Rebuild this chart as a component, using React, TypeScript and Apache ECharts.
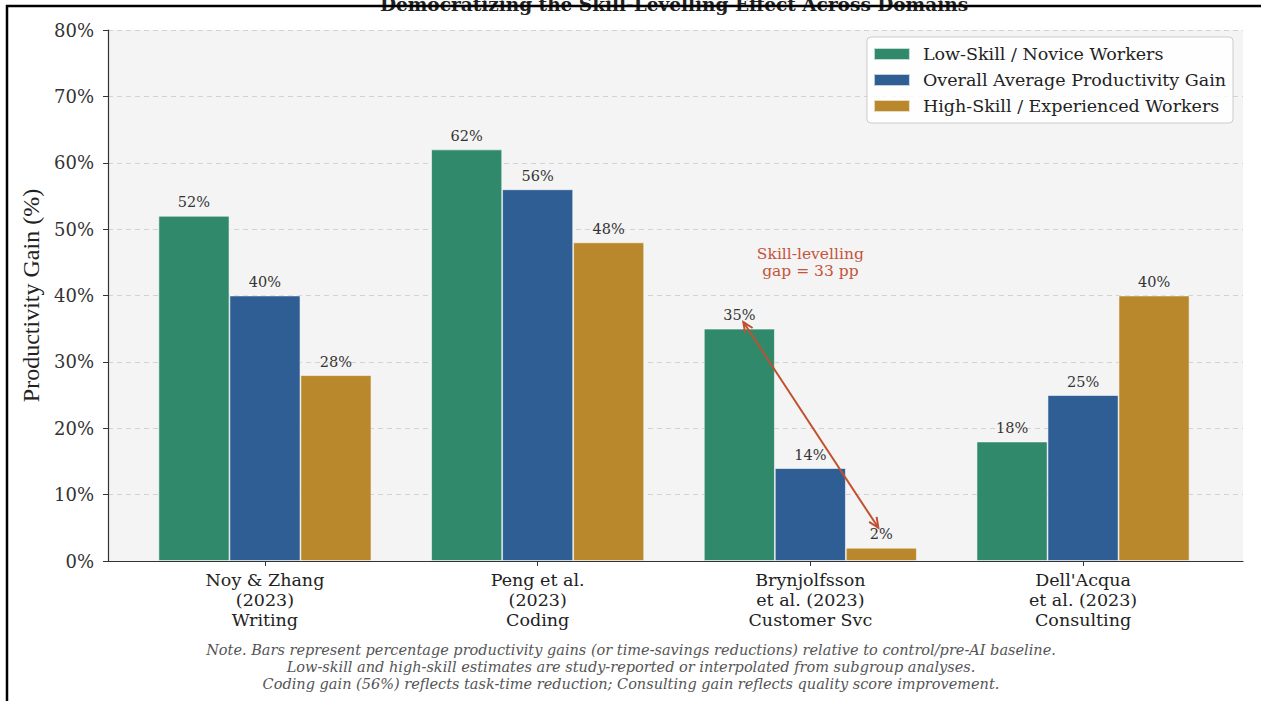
import React, { useEffect, useRef } from "react";
import * as echarts from "echarts";

// Study / domain categories (multi-line axis labels)
const categories = [
  "Noy & Zhang\n(2023)\nWriting",
  "Peng et al.\n(2023)\nCoding",
  "Brynjolfsson\net al. (2023)\nCustomer Svc",
  "Dell'Acqua\net al. (2023)\nConsulting",
];

// Productivity gains (%) by worker group
const lowSkill = [52, 62, 35, 18];
const overallAvg = [40, 56, 14, 25];
const highSkill = [28, 48, 2, 40];

const seriesNames = [
  "Low-Skill / Novice Workers",
  "Overall Average Productivity Gain",
  "High-Skill / Experienced Workers",
];

const yTicks = [0, 10, 20, 30, 40, 50, 60, 70, 80];

// Skill-levelling annotation for the customer-service study
const gapCategoryIndex = 2;
const gapFromValue = 36;
const gapToValue = 5;
const gapLabelValue = 45;
const gapLabel = "Skill-levelling\ngap = 33 pp";

const titleText = "Democratizing the Skill-Levelling Effect Across Domains";
const noteLines = [
  "Note. Bars represent percentage productivity gains (or time-savings reductions) relative to control/pre-AI baseline.",
  "Low-skill and high-skill estimates are study-reported or interpolated from subgroup analyses.",
  "Coding gain (56%) reflects task-time reduction; Consulting gain reflects quality score improvement.",
];

const COLORS = ["#31896c", "#2f5e95", "#b9882c"];
const SERIF = "'DejaVu Serif', serif";
const BAR_W = 71;

export default function App() {
  const ref = useRef<HTMLDivElement>(null);

  useEffect(() => {
    if (!ref.current) return;
    const chart = echarts.init(ref.current, null, { renderer: "svg" });

    const barSeries = (name: string, data: number[], color: string) => ({
      name,
      type: "bar",
      xAxisIndex: 1,
      yAxisIndex: 1,
      data,
      barWidth: BAR_W,
      barGap: "0%",
      itemStyle: { color, borderColor: "rgba(255,255,255,0.7)", borderWidth: 0.8 },
      label: {
        show: true,
        position: "top",
        distance: 6,
        formatter: "{c}%",
        fontFamily: SERIF,
        fontSize: 14.5,
        color: "#333",
      },
    });

    chart.setOption({
      animation: false,
      backgroundColor: "#ffffff",
      grid: [
        {
          left: 108,
          right: 18,
          top: 30,
          height: 531,
          show: true,
          backgroundColor: "#f4f4f4",
          borderWidth: 0,
        },
        {
          left: 128.6,
          right: 41.6,
          top: 30,
          height: 531,
        },
      ],
      xAxis: [
        {
          gridIndex: 0,
          type: "category",
          data: [""],
          axisLine: { show: true, lineStyle: { color: "#333", width: 1.2 } },
          axisTick: { show: false },
          axisLabel: { show: false },
          splitLine: { show: false },
          z: 5,
        },
        {
          gridIndex: 1,
          type: "category",
          data: categories,
          axisLine: { show: false },
          axisTick: {
            show: true,
            alignWithLabel: true,
            length: 5,
            lineStyle: { color: "#333", width: 1 },
          },
          axisLabel: {
            margin: 9,
            fontFamily: SERIF,
            fontSize: 17.5,
            lineHeight: 20,
            color: "#222",
            interval: 0,
          },
        },
      ],
      yAxis: [
        {
          gridIndex: 0,
          type: "value",
          min: 0,
          max: 80,
          interval: 10,
          name: "Productivity Gain (%)",
          nameLocation: "middle",
          nameGap: 64,
          nameTextStyle: {
            fontFamily: "'Liberation Serif', serif",
            fontSize: 24,
            color: "#222",
          },
          axisLine: { show: true, lineStyle: { color: "#333", width: 1.2 } },
          axisTick: { show: true, length: 5, lineStyle: { color: "#333" } },
          axisLabel: {
            formatter: (v: number) => (yTicks.includes(v) ? `${v}%` : ""),
            fontFamily: SERIF,
            fontSize: 18,
            color: "#333",
            margin: 14,
          },
          splitLine: {
            show: true,
            lineStyle: { color: "#d2d2d2", type: [5, 4], width: 1 },
          },
        },
        {
          gridIndex: 1,
          type: "value",
          min: 0,
          max: 80,
          interval: 10,
          show: false,
          splitLine: { show: false },
        },
      ],
      legend: {
        orient: "vertical",
        right: 28,
        top: 37,
        data: seriesNames,
        icon: "rect",
        itemWidth: 36,
        itemHeight: 12,
        itemGap: 8,
        padding: [8, 7, 8, 6],
        backgroundColor: "rgba(255,255,255,0.85)",
        borderColor: "#cccccc",
        borderWidth: 1,
        borderRadius: 4,
        textStyle: {
          fontFamily: SERIF,
          fontSize: 17.5,
          color: "#222",
          lineHeight: 18,
          padding: [0, 0, 0, 8],
        },
      },
      series: [
        barSeries(seriesNames[0], lowSkill, COLORS[0]),
        barSeries(seriesNames[1], overallAvg, COLORS[1]),
        barSeries(seriesNames[2], highSkill, COLORS[2]),
      ],
    });

    // Annotation arrow between the low- and high-skill bars of one study
    const finder = { xAxisIndex: 1, yAxisIndex: 1 };
    const pFrom = chart.convertToPixel(finder, [gapCategoryIndex, gapFromValue]) as number[];
    const pTo = chart.convertToPixel(finder, [gapCategoryIndex, gapToValue]) as number[];
    const pLabel = chart.convertToPixel(finder, [gapCategoryIndex, gapLabelValue]) as number[];
    const x1 = pFrom[0] - BAR_W + 4;
    const y1 = pFrom[1];
    const x2 = pTo[0] + BAR_W - 3;
    const y2 = pTo[1];
    const ang = Math.atan2(y2 - y1, x2 - x1);
    const headLen = 11;
    const headAng = 0.42;
    const head = (x: number, y: number, a: number) => [
      [x + headLen * Math.cos(a - headAng), y + headLen * Math.sin(a - headAng)],
      [x, y],
      [x + headLen * Math.cos(a + headAng), y + headLen * Math.sin(a + headAng)],
    ];
    const arrowColor = "#c1502f";

    chart.setOption({
      graphic: [
        {
          type: "text",
          x: 674,
          y: 4,
          z: 50,
          style: {
            text: titleText,
            fontFamily: SERIF,
            fontWeight: "bold",
            fontSize: 18.5,
            fill: "#222",
            textAlign: "center",
            textVerticalAlign: "middle",
          },
        },
        {
          type: "line",
          z: 100,
          shape: { x1: x1, y1: y1, x2: x2, y2: y2 },
          style: { stroke: arrowColor, lineWidth: 2 },
        },
        {
          type: "polyline",
          z: 100,
          shape: { points: head(x1, y1, ang) },
          style: { stroke: arrowColor, lineWidth: 2, fill: null },
        },
        {
          type: "polyline",
          z: 100,
          shape: { points: head(x2, y2, ang + Math.PI) },
          style: { stroke: arrowColor, lineWidth: 2, fill: null },
        },
        {
          type: "text",
          x: pLabel[0],
          y: pLabel[1],
          z: 100,
          style: {
            text: gapLabel,
            fontFamily: SERIF,
            fontSize: 15.5,
            lineHeight: 17,
            fill: "#c4553a",
            textAlign: "center",
            textVerticalAlign: "middle",
          },
        },
        {
          type: "text",
          x: 631,
          y: 641,
          style: {
            text: noteLines.join("\n"),
            fontFamily: SERIF,
            fontStyle: "italic",
            fontSize: 14.5,
            lineHeight: 17,
            fill: "#555",
            textAlign: "center",
            textVerticalAlign: "top",
          },
        },
        // frame lines along the top and left edges
        {
          type: "line",
          z: 200,
          shape: { x1: 6, y1: 6, x2: 1261, y2: 6 },
          style: { stroke: "#000", lineWidth: 2.5 },
        },
        {
          type: "line",
          z: 200,
          shape: { x1: 7, y1: 5, x2: 7, y2: 701 },
          style: { stroke: "#000", lineWidth: 2.5 },
        },
      ],
    });

    return () => chart.dispose();
  }, []);

  return (
    <div
      ref={ref}
      style={{ position: "fixed", left: 0, top: 0, width: 1261, height: 701 }}
    />
  );
}
